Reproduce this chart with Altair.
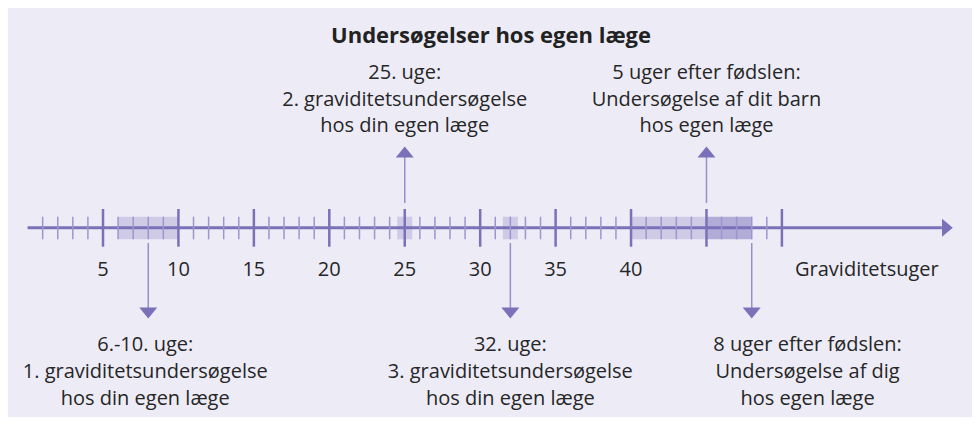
import altair as alt
import pandas as pd

W, H = 964, 409

# ---- data ----
minor_weeks = [w for w in range(1, 50) if w % 5]
major_weeks = [5, 10, 15, 20, 25, 30, 35, 40, 45, 50]
label_weeks = [5, 10, 15, 20, 25, 30, 35, 40]
axis_title = "Graviditetsuger"
chart_title = "Undersøgelser hos egen læge"

shade_start = [6, 24.5, 31.5, 40, 45]
shade_end = [10, 25.5, 32.5, 45, 48]
shade_tone = ["lys", "lys", "lys", "lys", "mørk"]

up_weeks = [25, 45]
down_weeks = [8, 32, 48]

top_centers = [25, 45]
top_texts = [
    ["25. uge:", "2. graviditetsundersøgelse", "hos din egen læge"],
    ["5 uger efter fødslen:", "Undersøgelse af dit barn", "hos egen læge"],
]
bottom_centers = [7.8, 32, 51.7]
bottom_texts = [
    ["6.-10. uge:", "1. graviditetsundersøgelse", "hos din egen læge"],
    ["32. uge:", "3. graviditetsundersøgelse", "hos din egen læge"],
    ["8 uger efter fødslen:", "Undersøgelse af dig", "hos egen læge"],
]

# ---- styling ----
BG = "#edecf6"
AXIS = "#7a71b8"
MINOR = "#9c96ce"
ARROW_LINE = "#968fcb"
TEXT = "#262626"
FONT = "Open Sans"

xs = alt.Scale(domain=[-1.297, 62.60], nice=False, zero=False)
ys = alt.Scale(domain=[0, H], reverse=True, nice=False, zero=False)
X = lambda f: alt.X(f, scale=xs, axis=None)
Y = lambda f: alt.Y(f, scale=ys, axis=None)

# ---- tables ----
shade_df = pd.DataFrame({"a": shade_start, "b": shade_end, "tone": shade_tone})
minor_df = pd.DataFrame({"w": minor_weeks})
major_df = pd.DataFrame({"w": major_weeks})
label_df = pd.DataFrame({"w": label_weeks, "t": [str(v) for v in label_weeks]})
up_df = pd.DataFrame({"w": up_weeks})
down_df = pd.DataFrame({"w": down_weeks})

rows = []
for c, lines in zip(top_centers, top_texts):
    for i, s in enumerate(lines):
        rows.append({"w": c, "y": 71 + 26.7 * i, "t": s})
for c, lines in zip(bottom_centers, bottom_texts):
    for i, s in enumerate(lines):
        rows.append({"w": c, "y": 343 + 27 * i, "t": s})
ann_df = pd.DataFrame(rows)

shades = alt.Chart(shade_df).mark_rect().encode(
    x=X("a:Q"), x2="b:Q",
    y=alt.value(208.7), y2=alt.value(231.3),
    color=alt.Color("tone:N", scale=alt.Scale(domain=["lys", "mørk"], range=["#cfcbe6", "#b2acd8"]), legend=None),
)

axis_line = alt.Chart(pd.DataFrame({"a": [0], "b": [60.6]})).mark_rule(
    color=AXIS, strokeWidth=3
).encode(x=X("a:Q"), x2="b:Q", y=alt.value(219.7))

axis_head = alt.Chart(pd.DataFrame({"w": [60.97]})).mark_point(
    shape="M-0.6,-1L0.6,0L-0.6,1Z", filled=True, size=324, color=AXIS, opacity=1
).encode(x=X("w:Q"), y=alt.value(219.7))

minor = alt.Chart(minor_df).mark_rule(color=MINOR, strokeWidth=1.5).encode(
    x=X("w:Q"), y=alt.value(208.7), y2=alt.value(231.3)
)
major = alt.Chart(major_df).mark_rule(color=AXIS, strokeWidth=2.5).encode(
    x=X("w:Q"), y=alt.value(201), y2=alt.value(238.7)
)

labels = alt.Chart(label_df).mark_text(
    font=FONT, fontSize=20, color=TEXT, align="center", baseline="alphabetic"
).encode(x=X("w:Q"), y=alt.value(267.7), text="t:N")

axis_lab = alt.Chart(pd.DataFrame({"w": [50.87], "t": [axis_title]})).mark_text(
    font=FONT, fontSize=20, color=TEXT, align="left", baseline="alphabetic"
).encode(x=X("w:Q"), y=alt.value(267.7), text="t:N")

title = alt.Chart(pd.DataFrame({"w": [30.72], "t": [chart_title]})).mark_text(
    font=FONT, fontSize=22, fontWeight="bold", color="#222222", align="center", baseline="alphabetic"
).encode(x=X("w:Q"), y=alt.value(35), text="t:N")

up_lines = alt.Chart(up_df).mark_rule(color=ARROW_LINE, strokeWidth=1.5).encode(
    x=X("w:Q"), y=alt.value(149), y2=alt.value(195)
)
up_heads = alt.Chart(up_df).mark_point(
    shape="M-1,0.6L0,-0.6L1,0.6Z", filled=True, size=324, color=AXIS, opacity=1
).encode(x=X("w:Q"), y=alt.value(144))

down_lines = alt.Chart(down_df).mark_rule(color=ARROW_LINE, strokeWidth=1.5).encode(
    x=X("w:Q"), y=alt.value(235), y2=alt.value(300)
)
down_heads = alt.Chart(down_df).mark_point(
    shape="M-1,-0.6L0,0.6L1,-0.6Z", filled=True, size=324, color=AXIS, opacity=1
).encode(x=X("w:Q"), y=alt.value(305))

ann = alt.Chart(ann_df).mark_text(
    font=FONT, fontSize=20, color=TEXT, align="center", baseline="alphabetic"
).encode(x=X("w:Q"), y=Y("y:Q"), text="t:N")

chart = alt.layer(
    shades, axis_line, axis_head, minor, major, labels, axis_lab, title,
    up_lines, up_heads, down_lines, down_heads, ann
).properties(
    width=W, height=H, background=BG, padding=0,
    autosize=alt.AutoSizeParams(type="none"),
).configure_view(stroke=None)

chart.save("out.html", embed_options={"renderer": "svg", "actions": False})
